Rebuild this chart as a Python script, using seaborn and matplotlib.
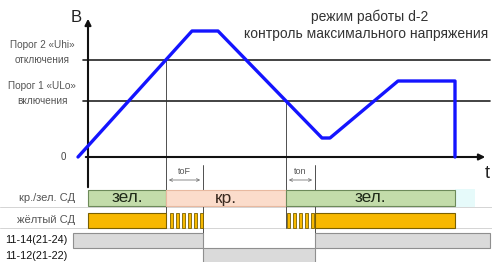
import matplotlib
matplotlib.use("Agg")
import matplotlib.pyplot as plt
from matplotlib.patches import Rectangle
import seaborn as sns
import pandas as pd

# ---- data (time units, voltage units) ----
line_t = [-10, 104, 130, 234, 242, 310, 367, 367]
line_u = [0, 126, 126, 19, 19, 76, 76, 0]
u_hi = 97
u_lo = 56
t_off = 78      # crossing of upper threshold
t_on = 198      # crossing of lower threshold
toF = 37
ton = 29
t_end = 367

rg_segments = [("зел.", 0, 78, "green"), ("кр.", 78, 198, "red"), ("зел.", 198, 367, "green")]
yellow_solid = [(0, 78), (227, 367)]
yellow_blink = [82, 88, 94, 100, 106, 112, 199, 205, 211, 217, 223]
blink_width = 3.2
relay_1114 = [(-15, 115), (227, 402)]
relay_1112 = [(115, 227)]

thr_labels = [("Порог 2 «Uhi»", "отключения", u_hi), ("Порог 1 «ULo»", "включения", u_lo)]
row_labels = ["кр./зел. СД", "жёлтый СД", "11-14(21-24)", "11-12(21-22)"]
title_lines = ["режим работы d-2", "контроль максимального напряжения"]

sns.set_theme(style="white")
plt.rcParams["font.family"] = ["Liberation Sans", "DejaVu Sans"]

fig = plt.figure(figsize=(4.92, 2.62), dpi=100)
ax = fig.add_axes([0, 0, 1, 1])

# row separators
for yy in (-50, -71):
    ax.plot([-88, 404], [yy, yy], color="#d4d4d4", lw=0.7, zorder=0)

# thresholds
for _, _, u in thr_labels:
    ax.plot([-5, 402], [u, u], color="#222222", lw=1.2, zorder=1)

# axes with arrows
ax.annotate("", xy=(400, 0), xytext=(-5, 0),
            arrowprops=dict(arrowstyle="-|>", color="#111111", lw=1.5, mutation_scale=9), zorder=2)
ax.annotate("", xy=(0, 141), xytext=(0, -33),
            arrowprops=dict(arrowstyle="-|>", color="#111111", lw=1.5, mutation_scale=9), zorder=2)
ax.text(-12, 140, "В", fontsize=12, ha="center", va="center", color="#222222")
ax.text(399, -16, "t", fontsize=13, ha="center", va="center", color="#222222")
ax.text(-25, 0, "0", fontsize=7, ha="center", va="center", color="#444444")

for l1, l2, u in thr_labels:
    ax.text(-46, u + 15, l1, fontsize=7.2, ha="center", va="center", color="#555555")
    ax.text(-46, u + 0, l2, fontsize=7.2, ha="center", va="center", color="#555555")

# vertical markers
ax.plot([t_off, t_off], [u_hi, -71], color="#333333", lw=0.6, zorder=1)
ax.plot([t_on, t_on], [u_lo, -71], color="#333333", lw=0.6, zorder=1)
for tx in (t_off + toF, t_on + ton):
    ax.plot([tx, tx], [-8, -105], color="#333333", lw=0.6, zorder=1)

# toF / ton arrows
for t0, dt, lab in ((t_off, toF, "toF"), (t_on, ton, "ton")):
    ax.annotate("", xy=(t0, -23), xytext=(t0 + dt, -23),
                arrowprops=dict(arrowstyle="<->", color="#777777", lw=0.6, mutation_scale=5))
    ax.text(t0 + dt / 2, -15, lab, fontsize=6.5, ha="center", va="center", color="#555555")

# main voltage line
df = pd.DataFrame({"t": line_t, "u": line_u})
sns.lineplot(data=df, x="t", y="u", sort=False, estimator=None, color="#1414ff",
             lw=2.4, ax=ax, zorder=5)
ax.set_xlim(-88, 404)
ax.set_ylim(-105, 157)
ax.axis("off")

# red/green LED row
fills = {"green": ("#c3dcaa", "#6d8a5a", "#1f2a18"), "red": ("#fbdccb", "#e8b9a0", "#3a2a20")}
for lab, a, b, c in rg_segments:
    fc, ec, tc = fills[c]
    ax.add_patch(Rectangle((a, -49), b - a, 16, facecolor=fc, edgecolor=ec, lw=0.8, zorder=2))
    ax.text((a + b) / 2, -41, lab, fontsize=12.5, ha="center", va="center", color=tc, zorder=3)
ax.add_patch(Rectangle((t_end, -50), 20, 18, facecolor="#e6fafa", edgecolor="none", zorder=1))

# yellow LED row
for a, b in yellow_solid:
    ax.add_patch(Rectangle((a, -71), b - a, 15, facecolor="#f7b800", edgecolor="#7a6000", lw=0.8, zorder=2))
for s in yellow_blink:
    ax.add_patch(Rectangle((s, -71), blink_width, 15, facecolor="#f7b800", edgecolor="#7a6000", lw=0.6, zorder=2))

# relays
for a, b in relay_1114:
    ax.add_patch(Rectangle((a, -91), b - a, 15, facecolor="#dadada", edgecolor="#8f8f8f", lw=0.8, zorder=2))
for a, b in relay_1112:
    ax.add_patch(Rectangle((a, -108), b - a, 17, facecolor="#dadada", edgecolor="#8f8f8f", lw=0.8, zorder=2))

# row labels
ax.text(-13, -41, row_labels[0], fontsize=8, ha="right", va="center", color="#555555")
ax.text(-13, -63, row_labels[1], fontsize=8, ha="right", va="center", color="#555555")
ax.text(-52, -83, row_labels[2], fontsize=7.8, ha="center", va="center", color="#111111")
ax.text(-52, -99, row_labels[3], fontsize=7.8, ha="center", va="center", color="#111111")

# title
ax.text(282, 140, title_lines[0], fontsize=10, ha="center", va="center", color="#333333")
ax.text(278, 123, title_lines[1], fontsize=10, ha="center", va="center", color="#333333")

fig.savefig("out.png", dpi=100)
